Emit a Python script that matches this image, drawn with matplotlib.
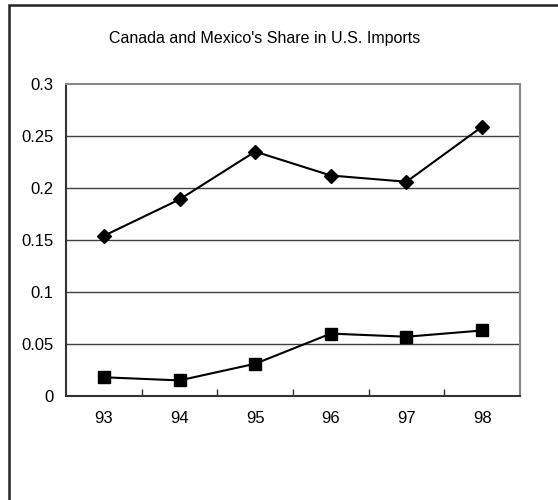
import numpy as np
import matplotlib.pyplot as plt
from matplotlib.patches import Rectangle

plt.rcParams['font.family'] = ['Liberation Sans', 'DejaVu Sans']

years = ['93', '94', '95', '96', '97', '98']
canada = [0.154, 0.189, 0.235, 0.212, 0.206, 0.259]   # diamonds
mexico = [0.018, 0.015, 0.031, 0.060, 0.057, 0.063]   # squares
yticks = [0, 0.05, 0.1, 0.15, 0.2, 0.25, 0.3]
ylabels = ['0', '0.05', '0.1', '0.15', '0.2', '0.25', '0.3']

fig = plt.figure(figsize=(5.58, 5.0), dpi=100)
ax = fig.add_axes([66/558, 1 - 396/500, (520 - 66)/558, (396 - 84)/500])

x = np.arange(len(years))
ax.plot(x, canada, color='black', lw=1.5, marker='D', ms=7.5, zorder=3)
ax.plot(x, mexico, color='black', lw=1.5, marker='s', ms=8.5, zorder=3)

ax.set_xlim(-0.5, len(years) - 0.5)
ax.set_ylim(0, 0.3)
ax.set_yticks(yticks)
ax.set_yticklabels(ylabels)
ax.set_xticks(x)
ax.set_xticklabels(years)
ax.set_xticks(x[:-1] + 0.5, minor=True)
ax.tick_params(axis='x', which='major', length=0, pad=11, labelsize=12)
ax.tick_params(axis='x', which='minor', direction='in', length=5, width=1, color='#333333')
ax.tick_params(axis='y', length=0, pad=9, labelsize=12)

for v in yticks[1:-1]:
    ax.axhline(v, color='#404040', lw=1, zorder=1)

for s in ['top', 'right']:
    ax.spines[s].set_color('#888888')
    ax.spines[s].set_linewidth(1.5)
for s in ['left', 'bottom']:
    ax.spines[s].set_color('#333333')
    ax.spines[s].set_linewidth(1.5)

fig.text(265/558, 1 - 38/500, "Canada and Mexico's Share in U.S. Imports",
         ha='center', va='center', fontsize=11.5)

# outer chart frame
fig.patches.append(Rectangle((9/558, -0.1), 1.1, 1 - 5/500 + 0.1, transform=fig.transFigure,
                             fill=False, edgecolor='#222222', lw=1.8))

fig.savefig('out.png', dpi=100)
